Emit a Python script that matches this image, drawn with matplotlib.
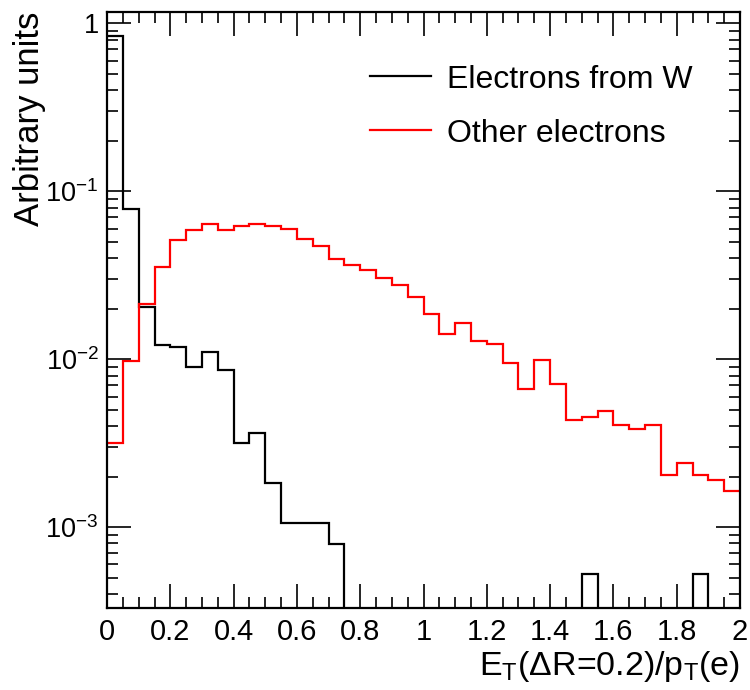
import numpy as np
import matplotlib
matplotlib.use('Agg')
import matplotlib.pyplot as plt
from matplotlib.ticker import FixedLocator, MultipleLocator, LogLocator, NullFormatter

plt.rcParams['font.family'] = ['Liberation Sans', 'DejaVu Sans']
plt.rcParams['mathtext.fontset'] = 'custom'
plt.rcParams['mathtext.rm'] = 'Liberation Sans'
plt.rcParams['mathtext.it'] = 'Liberation Sans:italic'
plt.rcParams['mathtext.default'] = 'regular'

# bin edges: 40 bins of 0.05 from 0 to 2
edges = np.linspace(0, 2, 41)

# electrons from W (black)
w_elec = [0.84, 0.079, 0.0204, 0.0122, 0.0118, 0.0090, 0.0110, 0.00867,
          0.00316, 0.00364, 0.00184, 0.00106, 0.00106, 0.00106, 0.00079, 0,
          0, 0, 0, 0, 0, 0, 0, 0, 0, 0, 0, 0, 0, 0,
          0.000525, 0, 0, 0, 0, 0, 0, 0.000525, 0, 0]

# other electrons (red)
other_elec = [0.00316, 0.0098, 0.0214, 0.0354, 0.0515, 0.0588, 0.0638, 0.0588,
              0.0621, 0.0638, 0.0621, 0.0597, 0.0522, 0.0474, 0.0397, 0.0364,
              0.034, 0.0305, 0.0278, 0.0236, 0.0186, 0.0142, 0.0164, 0.0129,
              0.0124, 0.00946, 0.00662, 0.00986, 0.0071, 0.00432, 0.00454, 0.00493,
              0.00408, 0.00383, 0.00408, 0.00205, 0.00241, 0.00205, 0.00190, 0.00164]

labels = ['Electrons from W', 'Other electrons']
ytick_vals = [1e-3, 1e-2, 1e-1, 1]
ytick_labels = ['$10^{-3}$', '$10^{-2}$', '$10^{-1}$', '1']

fig = plt.figure(figsize=(7.5, 6.9), dpi=100)
ax = fig.add_axes([0.1427, 0.1188, 0.844, 0.8638])

floor = 1e-9
ax.stairs(np.where(np.array(w_elec) > 0, w_elec, floor), edges, baseline=None,
          color='black', lw=1.6, label=labels[0])
ax.stairs(np.where(np.array(other_elec) > 0, other_elec, floor), edges, baseline=None,
          color='red', lw=1.6, label=labels[1])

ax.set_yscale('log')
ax.set_xlim(0, 2)
ax.set_ylim(3.3e-4, 1.17)

ax.xaxis.set_major_locator(MultipleLocator(0.2))
ax.xaxis.set_minor_locator(MultipleLocator(0.05))
ax.xaxis.set_major_formatter(plt.FuncFormatter(lambda v, p: '%g' % round(v, 2)))
ax.yaxis.set_major_locator(FixedLocator(ytick_vals))
ax.set_yticklabels(ytick_labels)
ax.yaxis.set_minor_locator(LogLocator(base=10, subs=np.arange(2, 10)))
ax.yaxis.set_minor_formatter(NullFormatter())

ax.tick_params(which='both', direction='in', top=True, right=True, width=1.2)
ax.tick_params(which='major', length=17, pad=7)
ax.tick_params(which='minor', length=8)
ax.tick_params(axis='x', labelsize=21)
ax.tick_params(axis='y', labelsize=19.5, pad=6)
for s in ax.spines.values():
    s.set_linewidth(1.6)

ax.set_xlabel('E$_T$(\u0394R=0.2)/p$_T$(e)', fontsize=24.5, loc='right', labelpad=2)
ax.set_ylabel('Arbitrary units', fontsize=25, loc='top')
ax.yaxis.set_label_coords(-0.097, 1.0)

ax.legend(loc='upper right', bbox_to_anchor=(0.97, 0.96), frameon=False, fontsize=23,
          handlelength=1.9, handletextpad=0.5, labelspacing=0.75)

fig.savefig('out.png', dpi=100)
